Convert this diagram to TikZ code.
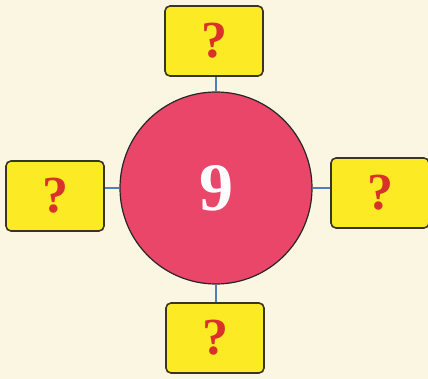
\documentclass[tikz,border=0pt]{standalone}
\usepackage{fontspec}
\setmainfont{Liberation Serif}
\definecolor{bg}{HTML}{FAF6E2}
\definecolor{boxy}{HTML}{FCEA24}
\definecolor{boxline}{HTML}{3A3424}
\definecolor{qred}{HTML}{D8322A}
\definecolor{pinkc}{HTML}{E9466A}
\definecolor{linkb}{HTML}{4C7FBE}
\begin{document}
\begin{tikzpicture}[x=1pt,y=-1pt,
  qbox/.style={draw=boxline,line width=1.6pt,fill=boxy,rounded corners=5pt,
    minimum width=98pt,minimum height=70pt,inner sep=0pt,
    font=\fontsize{52}{52}\selectfont\bfseries,text=qred},
  hub/.style={circle,draw=black!85,line width=1.2pt,fill=pinkc,minimum size=192pt,inner sep=0pt,
    font=\fontsize{68}{68}\selectfont\bfseries,text=white},
  link/.style={draw=linkb,line width=2.8pt}]
\fill[bg] (0,0) rectangle (428,379);
\useasboundingbox (0,0) rectangle (428,379);
\node[hub] (c) at (216,188) {9};
\node[qbox] (t) at (214,41) {?};
\node[qbox] (l) at (55,196) {?};
\node[qbox] (r) at (380,193) {?};
\node[qbox] (b) at (215,338) {?};
\draw[link] (c.north |- t.south) -- (c.north);
\draw[link] (c.south |- b.north) -- (c.south);
\draw[link] (l.east |- c.center) -- (c.west);
\draw[link] (r.west |- c.center) -- (c.east);
\end{tikzpicture}
\end{document}
